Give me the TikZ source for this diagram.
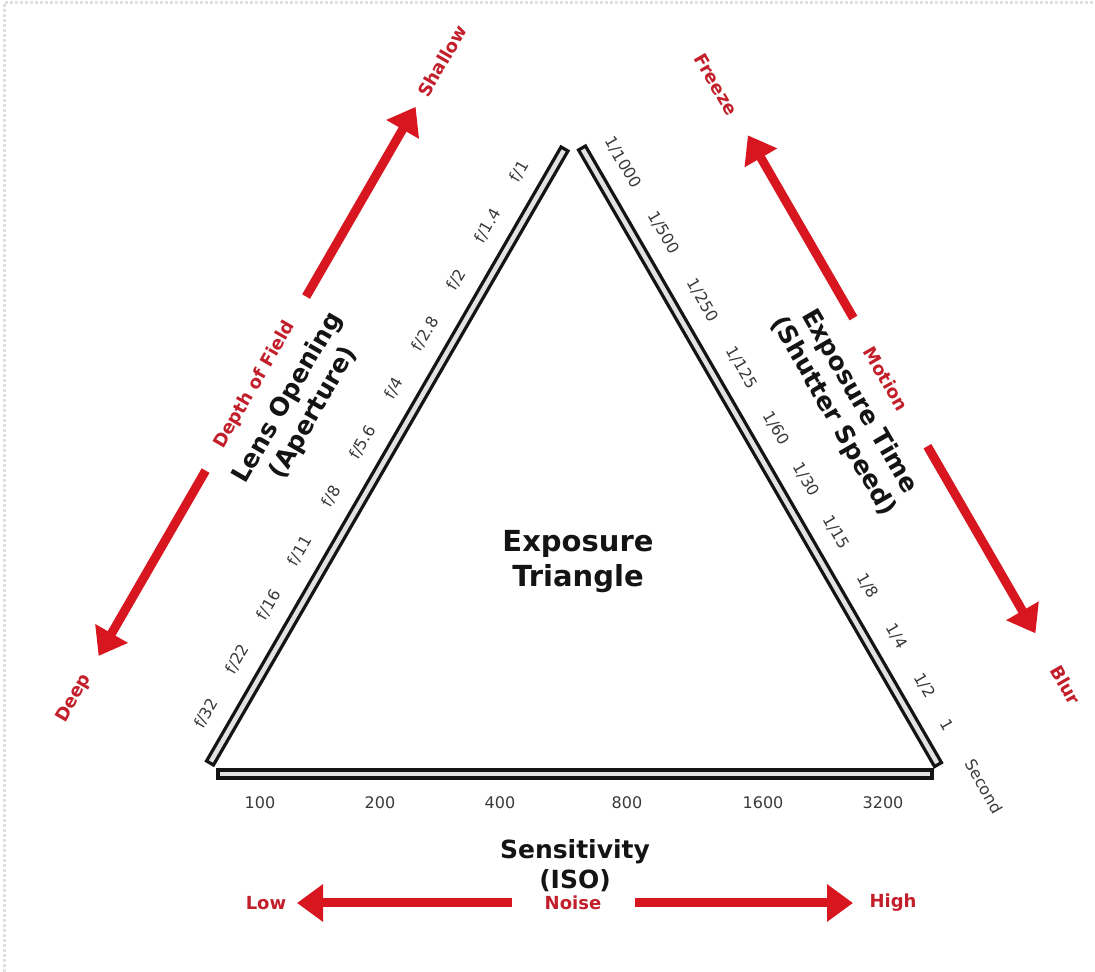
\documentclass[tikz,border=0pt]{standalone}
\usepackage{fontspec}
\setmainfont{DejaVu Sans}
\usepackage{tikz}
\usetikzlibrary{arrows.meta,calc}
\definecolor{inkblack}{HTML}{141414}
\definecolor{barfill}{HTML}{E2E2E2}
\definecolor{signalred}{HTML}{D8161F}
\definecolor{labelred}{HTML}{C21F2B}
\definecolor{tickgrey}{HTML}{3A3A3A}
\tikzset{
  tribar/.style={draw=inkblack, fill=barfill, line width=1.6pt},
  tick/.style={font=\fontsize{8}{9}\selectfont, text=tickgrey, inner sep=0pt},
  axistitle/.style={font=\fontsize{12.5}{15}\selectfont\bfseries, text=inkblack, align=center, inner sep=0pt},
  maintitle/.style={font=\fontsize{14.5}{17.5}\selectfont\bfseries, text=inkblack, align=center, inner sep=0pt},
  redlabel/.style={font=\fontsize{9}{10}\selectfont\bfseries, text=labelred, inner sep=0pt},
  redarrow/.style={-{Triangle[width=18pt,length=13pt]}, line width=4.5pt, signalred},
  frameline/.style={gray!25, densely dotted, line width=1.5pt},
}

\begin{document}
\begin{tikzpicture}[x=0.5pt, y=0.5pt]
  \useasboundingbox (0,0) rectangle (1095,972);
  \draw[frameline] (4,0) -- (4,969) -- (1095,969);

  % aperture side
  \begin{scope}[shift={(210,209)}, rotate=60, transform shape]
    \draw[tribar] (0,-4) rectangle (709,4);
    \foreach \fs [count=\i from 0] in {f/32,f/22,f/16,f/11,f/8,f/5.6,f/4,f/2.8,f/2,f/1.4,f/1}
      \node[tick] (fstop\i) at ({41+62.6*\i},28) {\fs};
    \node[axistitle] (aperture) at (355,100) {Lens Opening\\(Aperture)};
    \coordinate (deepA) at (251,150);
    \coordinate (deepB) at (37,150);
    \coordinate (shallowA) at (452,150);
    \coordinate (shallowB) at (671,150);
    \node[redlabel] (deep) at (-12,150) {Deep};
    \node[redlabel] (dof) at (350,150) {Depth of Field};
    \node[redlabel] (shallow) at (724,150) {Shallow};
    \draw[redarrow] (deepA) -- (deepB);
    \draw[redarrow] (shallowA) -- (shallowB);
  \end{scope}

  % shutter side
  \begin{scope}[shift={(582,824)}, rotate=-60, transform shape]
    \draw[tribar] (0,-4) rectangle (712,4);
    \foreach \pos/\den in {33/1000,114/500,192/250,270/125,340/60,399/30,460/15,522/8,580/4,637/2}
      \node[tick] (shutter\den) at (\pos,28) {1/\den};
    \node[tick] (shutter1) at (682,28) {1};
    \node[tick] (second) at (754,29) {Second};
    \node[axistitle] (shutter) at (358,98) {Exposure Time\\(Shutter Speed)};
    \coordinate (freezeA) at (283,150);
    \coordinate (freezeB) at (72,150);
    \coordinate (blurA) at (431,150);
    \coordinate (blurB) at (647,150);
    \node[redlabel] (freeze) at (12,148) {Freeze};
    \node[redlabel] (motion) at (352,148) {Motion};
    \node[redlabel] (blur) at (707,150) {Blur};
    \draw[redarrow] (freezeA) -- (freezeB);
    \draw[redarrow] (blurA) -- (blurB);
  \end{scope}

  % sensitivity side
  \draw[tribar] (218,194) rectangle (932,202);
  \foreach \x/\iso in {260/100,380/200,500/400,627/800,763/1600,883/3200}
    \node[tick] (iso\iso) at (\x,169) {\iso};
  \node[axistitle] (sensitivity) at (575,106) {Sensitivity\\(ISO)};
  \node[maintitle] (exposure) at (578,410) {Exposure\\Triangle};
  \coordinate (lowA) at (512,69);
  \coordinate (lowB) at (297,69);
  \coordinate (highA) at (635,69);
  \coordinate (highB) at (853,69);
  \node[redlabel] (low) at (266,69) {Low};
  \node[redlabel] (noise) at (573,69) {Noise};
  \node[redlabel] (high) at (893,69) {High};
  \draw[redarrow] (lowA) -- (lowB);
  \draw[redarrow] (highA) -- (highB);
\end{tikzpicture}
\end{document}
